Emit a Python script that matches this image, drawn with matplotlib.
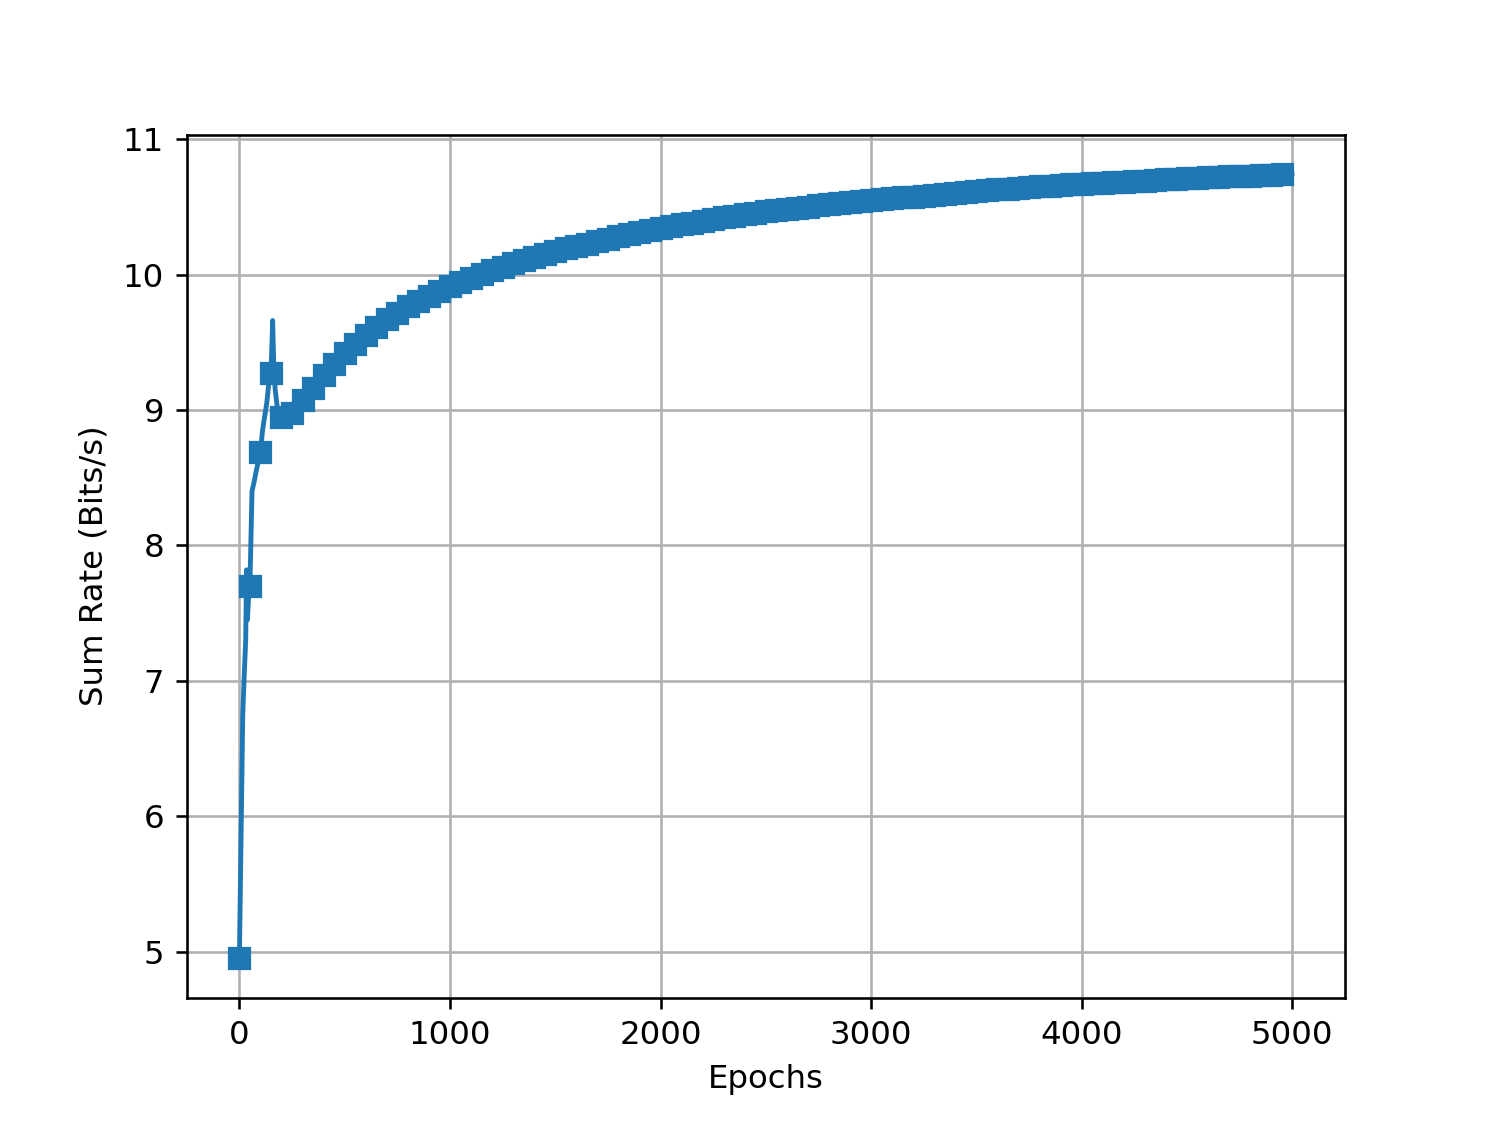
import matplotlib
matplotlib.use("Agg")
import matplotlib.pyplot as plt

# ---- data ----
early_epochs = [0, 16, 22, 30, 34, 38, 45, 50, 60, 70, 80, 90, 100, 110, 120, 130, 140,
                150, 155, 158, 163, 170, 180, 190, 200]
early_rates = [4.95, 6.75, 7.00, 7.30, 7.82, 7.45, 7.65, 7.70, 8.40, 8.47, 8.55, 8.62, 8.69,
               8.85, 8.95, 9.05, 9.20, 9.27, 9.50, 9.66, 9.35, 9.15, 9.02, 8.97, 8.95]

late_epochs = list(range(250, 5000, 50)) + [4999]
late_rates = [
    8.98, 9.07, 9.16, 9.26, 9.34, 9.42, 9.49, 9.557, 9.613, 9.668,
    9.714, 9.764, 9.806, 9.845, 9.879, 9.914, 9.946, 9.975, 10.005, 10.032,
    10.057, 10.084, 10.108, 10.131, 10.153, 10.173, 10.193, 10.210, 10.229, 10.246,
    10.264, 10.281, 10.296, 10.313, 10.330, 10.345, 10.357, 10.370, 10.384, 10.397,
    10.409, 10.421, 10.434, 10.444, 10.453, 10.466,
    10.475, 10.484, 10.493, 10.502, 10.510, 10.518, 10.526, 10.534, 10.541, 10.548,
    10.555, 10.562, 10.569, 10.576, 10.583, 10.590, 10.597, 10.604, 10.611, 10.617,
    10.623, 10.629, 10.635, 10.640, 10.645, 10.650, 10.655, 10.660, 10.665, 10.670,
    10.674, 10.678, 10.682, 10.686, 10.690, 10.694, 10.698, 10.702, 10.706, 10.710,
    10.714, 10.717, 10.721, 10.724, 10.728, 10.731, 10.734, 10.737, 10.741,
    10.744,
]

epochs = early_epochs + late_epochs
rates = early_rates + late_rates
assert len(epochs) == len(rates)
marker_idx = [i for i, e in enumerate(epochs) if e % 50 == 0]

dpi = 233.5
fig = plt.figure(figsize=(1494 / dpi, 1121 / dpi), dpi=dpi)
ax = fig.add_subplot(111)
ax.plot(epochs, rates, marker='s', markevery=marker_idx, color='#1f77b4')
ax.set_xlabel('Epochs')
ax.set_ylabel('Sum Rate (Bits/s)')
ax.grid(True)
fig.savefig('out.png', dpi=dpi)
